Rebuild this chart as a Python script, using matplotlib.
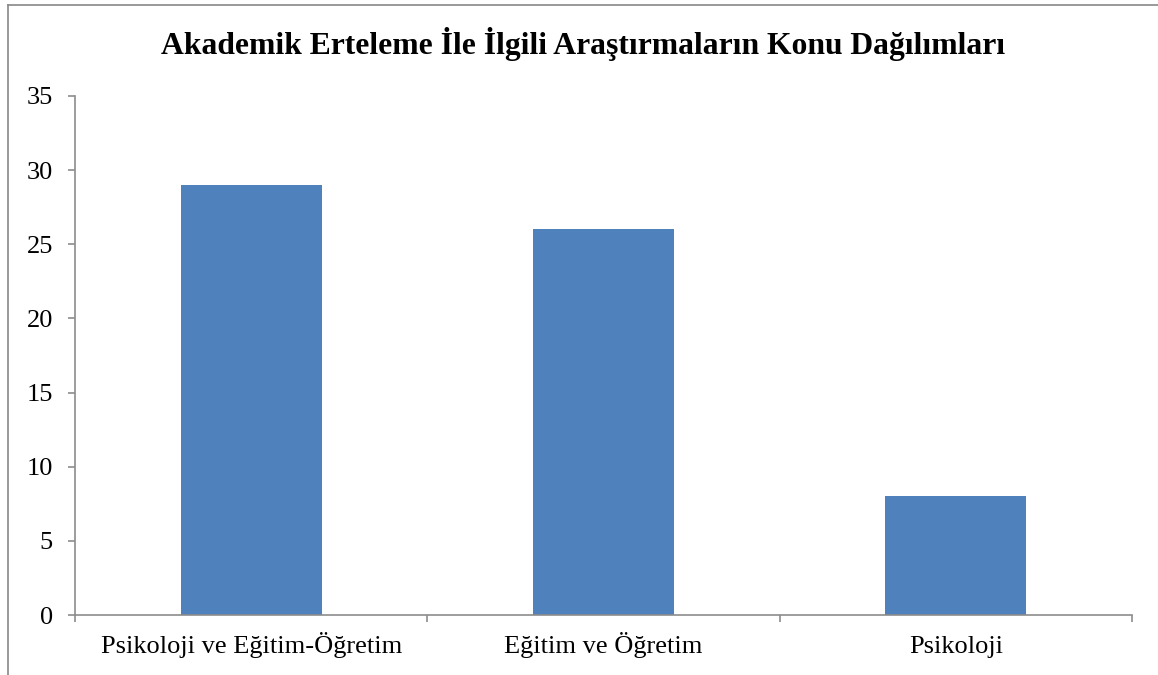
import numpy as np
import matplotlib.pyplot as plt
from matplotlib.lines import Line2D

categories = ['Psikoloji ve Eğitim-Öğretim', 'Eğitim ve Öğretim', 'Psikoloji']
values = [29, 26, 8]
yticks = [0, 5, 10, 15, 20, 25, 30, 35]
title = 'Akademik Erteleme İle İlgili Araştırmaların Konu Dağılımları'

plt.rcParams['font.family'] = ['Liberation Serif', 'DejaVu Serif']

W, H = 1158, 675
fig = plt.figure(figsize=(W / 100, H / 100), dpi=100)
ax = fig.add_axes([75 / W, 1 - 615 / H, (1132 - 75) / W, (615 - 96) / H])

x = np.arange(len(categories))
ax.bar(x, values, width=0.4, color='#4F81BD', zorder=2)

ax.set_xlim(-0.5, len(categories) - 0.5)
ax.set_ylim(0, 35)
ax.set_yticks(yticks)
ax.set_xticks(x)
ax.set_xticklabels(categories)
ax.set_xticks(np.arange(len(categories) + 1) - 0.5, minor=True)

axis_col = '#8c8c8c'
for s in ['top', 'right']:
    ax.spines[s].set_visible(False)
for s in ['left', 'bottom']:
    ax.spines[s].set_color(axis_col)
    ax.spines[s].set_linewidth(1.2)

ax.tick_params(axis='y', direction='out', length=5, width=1.2, color=axis_col,
               labelsize=19, pad=11)
ax.tick_params(axis='x', which='major', length=0, labelsize=19, pad=27)
ax.tick_params(axis='x', which='minor', direction='out', length=5, width=1.2,
               color=axis_col)
# same baseline for all category labels
for lbl in ax.get_xticklabels():
    lbl.set_verticalalignment('baseline')

fig.text(583 / W, 1 - 44 / H, title, ha='center', va='center',
         fontsize=22.8, fontweight='bold')

# chart border (only top and left visible in the crop)
fig.add_artist(Line2D([8 / W, 1.0], [1 - 5 / H, 1 - 5 / H], color='#888888', lw=1.2))
fig.add_artist(Line2D([8 / W, 8 / W], [0.0, 1 - 5 / H], color='#888888', lw=1.2))

fig.savefig('out.png', dpi=100)
